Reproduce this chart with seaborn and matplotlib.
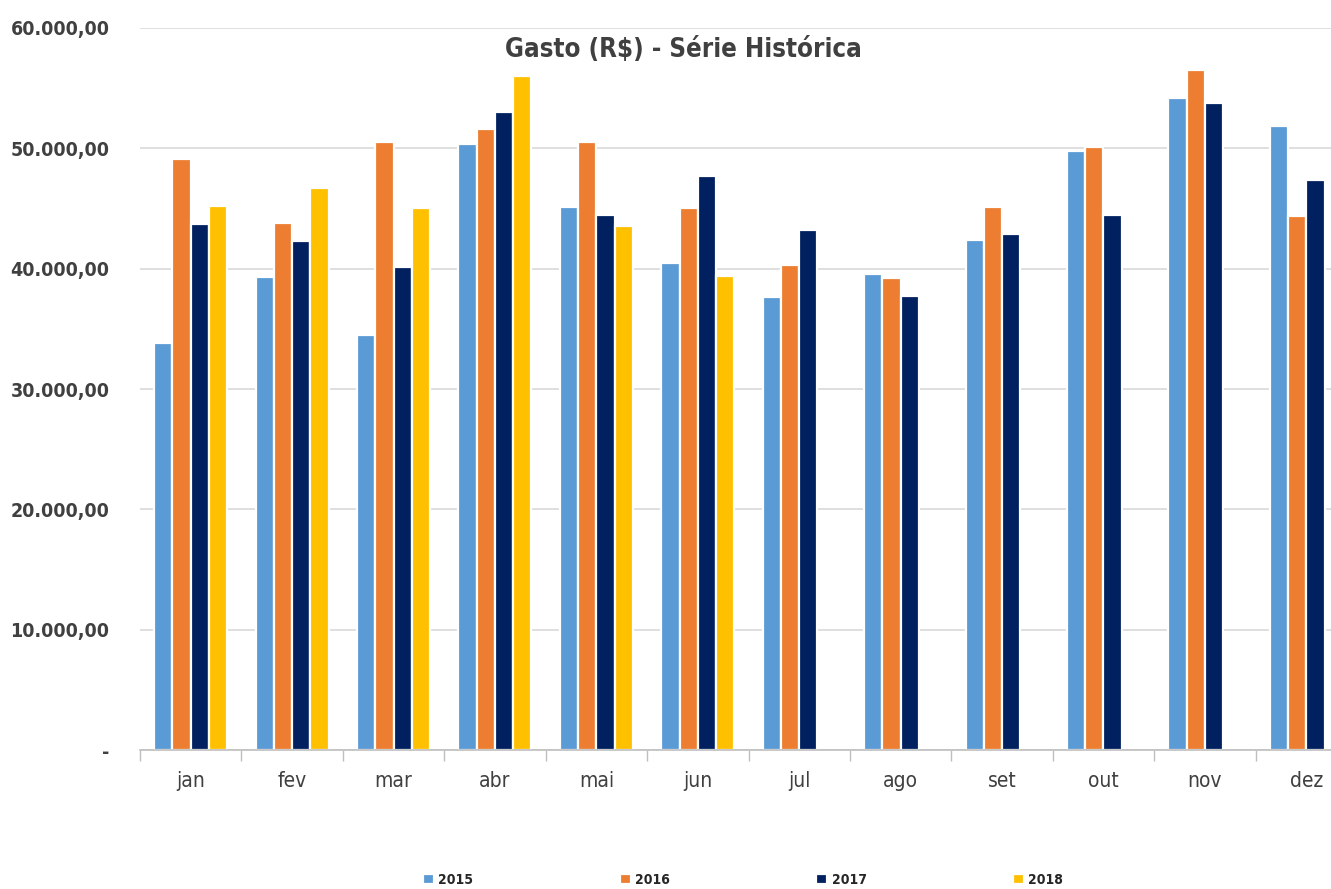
import numpy as np
import pandas as pd
import matplotlib
matplotlib.use('Agg')
import matplotlib.pyplot as plt
import seaborn as sns
from matplotlib.ticker import FuncFormatter

# Dados
meses = ['jan', 'fev', 'mar', 'abr', 'mai', 'jun', 'jul', 'ago', 'set', 'out', 'nov', 'dez']
anos = ['2015', '2016', '2017', '2018']
gasto_2015 = [33810, 39290, 34520, 50350, 45140, 40510, 37660, 39570, 42370, 49790, 54170, 51870]
gasto_2016 = [49100, 43780, 50540, 51570, 50540, 45080, 40320, 39240, 45160, 50100, 56530, 44390]
gasto_2017 = [43720, 42310, 40120, 52980, 44500, 47690, 43200, 37710, 42870, 44440, 53760, 47360]
gasto_2018 = [45220, 46740, 45050, 56030, 43580, 39380]
cores = ['#5B9BD5', '#ED7D31', '#002060', '#FFC000']

series = {'2015': gasto_2015, '2016': gasto_2016, '2017': gasto_2017, '2018': gasto_2018}
linhas = []
for ano, valores in series.items():
    for i, v in enumerate(valores):
        linhas.append({'mes': meses[i], 'ano': ano, 'gasto': v})
df = pd.DataFrame(linhas)

sns.set_theme(style='white')
plt.rcParams['font.family'] = ['DejaVu Sans']
plt.rcParams['font.stretch'] = 'condensed'

fig = plt.figure(figsize=(13.31, 8.89), dpi=100)
ax = fig.add_axes([140 / 1331, (889 - 750) / 889, (1357 - 140) / 1331, (750 - 28) / 889])

sns.barplot(data=df, x='mes', y='gasto', hue='ano', order=meses, hue_order=anos,
            palette=cores, saturation=1, width=0.72, errorbar=None,
            edgecolor='white', linewidth=1.6, ax=ax)

# eixo y
ax.set_ylim(0, 60000)
ax.set_yticks(np.arange(0, 60001, 10000))

def formata(v, pos):
    if v == 0:
        return '-'
    return f'{v:,.2f}'.replace(',', 'X').replace('.', ',').replace('X', '.')

ax.yaxis.set_major_formatter(FuncFormatter(formata))
ax.yaxis.grid(True, color='#D9D9D9', linewidth=1.2)
ax.set_axisbelow(True)
ax.tick_params(axis='y', length=0, pad=22, labelsize=14, labelcolor='#404040')
for t in ax.get_yticklabels():
    t.set_fontweight('bold')

# eixo x
ax.set_xlim(-0.5, 11.5)
ax.set_xticks(np.arange(-0.5, 12, 1), minor=True)
ax.tick_params(axis='x', which='major', length=0, pad=15, labelsize=15, labelcolor='#404040')
ax.tick_params(axis='x', which='minor', length=8, width=1, color='#BFBFBF', bottom=True)
ax.set_xlabel('')
ax.set_ylabel('')

for lado in ['top', 'right', 'left']:
    ax.spines[lado].set_visible(False)
ax.spines['bottom'].set_color('#BFBFBF')
ax.spines['bottom'].set_linewidth(1.2)

# legenda
handles, labels = ax.get_legend_handles_labels()
ax.get_legend().remove()
fig.legend(handles, labels, loc='center', bbox_to_anchor=(743 / 1331, 9 / 889), ncol=4,
           frameon=False, columnspacing=10.55, handlelength=0.8, handleheight=0.8,
           handletextpad=0.3, prop={'size': 10, 'weight': 'bold', 'stretch': 'condensed'},
           labelcolor='#262626')

fig.text(683 / 1331, 1 - 50 / 889, r'Gasto (R\$) - Série Histórica', ha='center', va='center',
         fontsize=18.5, fontweight='bold', color='#404040')

fig.savefig('out.png', dpi=100)
